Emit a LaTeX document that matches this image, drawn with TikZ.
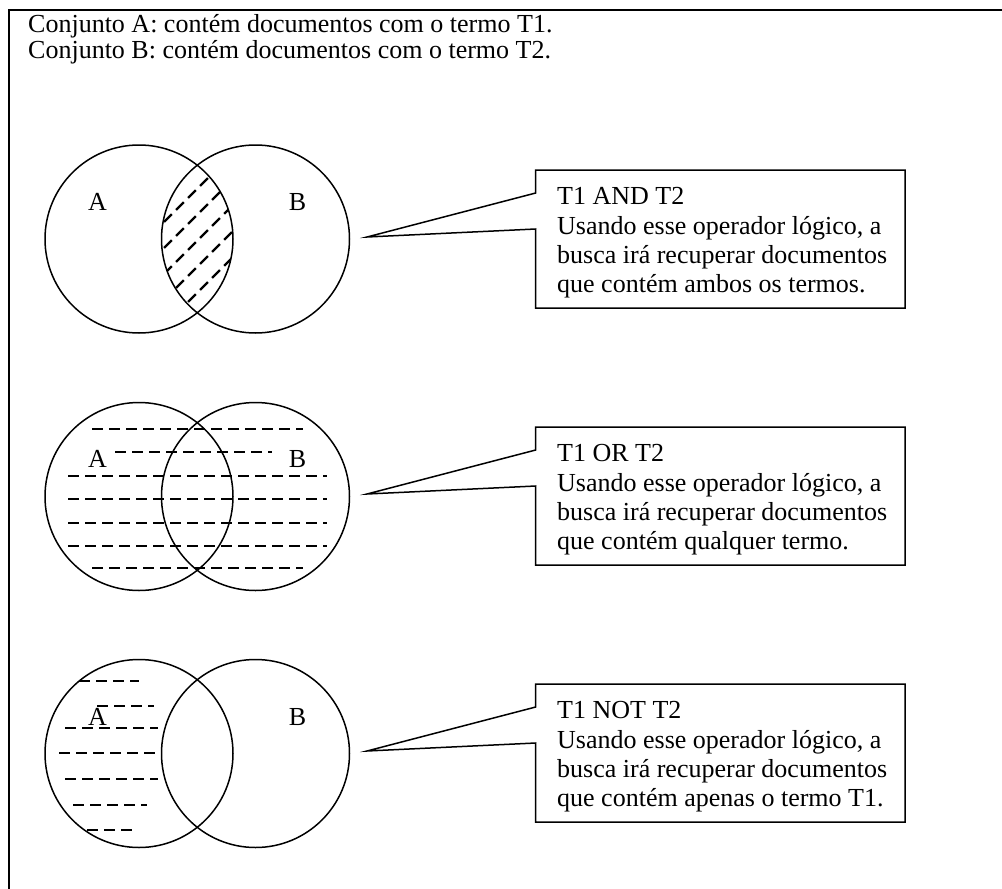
\documentclass[tikz,border=0pt]{standalone}
\usepackage{fontspec}
\setmainfont{Liberation Serif}
\begin{document}
\begin{tikzpicture}[x=1pt,y=-1pt,
  circ/.style={line width=1.5pt},
  hatchline/.style={line width=2.2pt, dash pattern=on 11pt off 6pt},
  callout/.style={line width=1.5pt},
  txt/.style={font=\fontsize{26}{30}\selectfont, inner sep=0pt, anchor=base west},
  lbl/.style={font=\fontsize{26}{30}\selectfont, inner sep=0pt, anchor=base}
]
\useasboundingbox (0,0) rectangle (1002,889);
\draw[line width=1.8pt] (1002,10) -- (9,10) -- (9,889);

\node[txt] (h1) at (28,32) {Conjunto A: contém documentos com o termo T1.};
\node[txt] (h2) at (28,58) {Conjunto B: contém documentos com o termo T2.};

% ---------- Venn 1 : AND ----------
\begin{scope}
  \clip (139,239) circle (94);
  \clip (255.5,239) circle (94);
  \foreach \c in {360,386,...,520}
    \draw[hatchline] (140,\c-140) -- (260,\c-260);
\end{scope}
\draw[circ] (139,239) circle (94);
\draw[circ] (255.5,239) circle (94);
\node[lbl] (a1) at (97.5,210) {A};
\node[lbl] (b1) at (297.5,210) {B};

\coordinate (tip1) at (367,237);
\draw[callout] (535.7,193) -- (535.7,170) -- (905,170) -- (905,308) -- (535.7,308) -- (535.7,229) -- (tip1) -- cycle;
\node[txt] (t1a) at (557,204) {T1 AND T2};
\node[txt] (t1b) at (557,234) {Usando esse operador lógico, a};
\node[txt] (t1c) at (557,263) {busca irá recuperar documentos};
\node[txt] (t1d) at (557,292) {que contém ambos os termos.};

% ---------- Venn 2 : OR ----------
\foreach \y/\xa/\xb in {429/92/303, 452/115/272, 476/68/327, 499/68/327, 523/68/327, 546/68/327, 568/92/303}
  \draw[hatchline] (\xa,\y) -- (\xb,\y);
\draw[circ] (139,496.5) circle (94);
\draw[circ] (255.5,496.5) circle (94);
\node[lbl, fill=white, inner sep=1pt] (a2) at (97.5,467) {A};
\node[lbl, fill=white, inner sep=1pt] (b2) at (297.5,467) {B};

\coordinate (tip2) at (367,494);
\draw[callout] (535.7,450) -- (535.7,427) -- (905,427) -- (905,565) -- (535.7,565) -- (535.7,486) -- (tip2) -- cycle;
\node[txt] (t2a) at (557,461) {T1 OR T2};
\node[txt] (t2b) at (557,491) {Usando esse operador lógico, a};
\node[txt] (t2c) at (557,520) {busca irá recuperar documentos};
\node[txt] (t2d) at (557,549) {que contém qualquer termo.};

% ---------- Venn 3 : NOT ----------
\foreach \y/\xa/\xb in {681/79/139, 706/97/154, 728/65/158, 753/59/160, 779/65/158, 805/73/147, 830/87/132}
  \draw[hatchline] (\xa,\y) -- (\xb,\y);
\draw[circ] (139,753.5) circle (94);
\draw[circ] (255.5,753.5) circle (94);
\node[lbl] (a3) at (97.5,725) {A};
\node[lbl] (b3) at (297.5,725) {B};

\coordinate (tip3) at (367,751);
\draw[callout] (535.7,707) -- (535.7,684) -- (905,684) -- (905,822) -- (535.7,822) -- (535.7,743) -- (tip3) -- cycle;
\node[txt] (t3a) at (557,718) {T1 NOT T2};
\node[txt] (t3b) at (557,748) {Usando esse operador lógico, a};
\node[txt] (t3c) at (557,777) {busca irá recuperar documentos};
\node[txt] (t3d) at (557,806) {que contém apenas o termo T1.};
\end{tikzpicture}
\end{document}
